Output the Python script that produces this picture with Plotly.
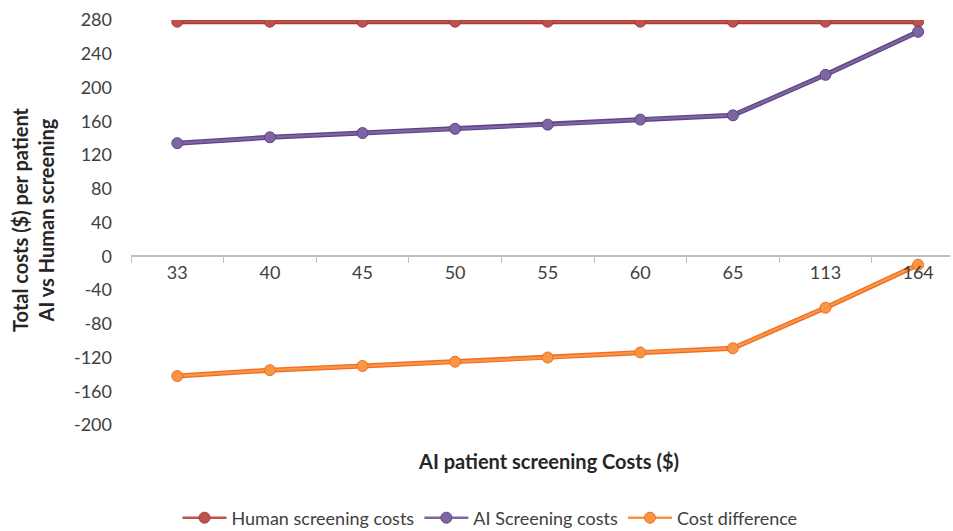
import plotly.graph_objects as go

categories = ["33", "40", "45", "50", "55", "60", "65", "113", "164"]
human_costs = [278, 278, 278, 278, 278, 278, 278, 278, 278]
ai_costs = [134, 141, 146, 151, 156, 162, 167, 215, 266]
cost_diff = [-142, -135, -130, -125, -120, -114, -109, -61, -10]
y_ticks = [280, 240, 200, 160, 120, 80, 40, 0, -40, -80, -120, -160, -200]
y_tick_labels = ["280", "240", "200", "160", "120", "80", "40", "0",
                 "-40", "-80", "-120", "-160", "-200"]

series = [
    ("Human screening costs", human_costs, "#C0504D", "#A33B38"),
    ("AI Screening costs", ai_costs, "#8064A2", "#5B4585"),
    ("Cost difference", cost_diff, "#F79646", "#F26B21"),
]

fig = go.Figure()
for name, vals, col, edge in series:
    fig.add_trace(go.Scatter(x=categories, y=vals, mode="lines", showlegend=False,
                             line=dict(color=edge, width=5), hoverinfo="skip"))
    fig.add_trace(go.Scatter(x=categories, y=vals, mode="lines+markers", name=name,
                             line=dict(color=col, width=2.5),
                             marker=dict(size=11, color=col, line=dict(color=edge, width=1))))

l, r, t, b = 131, 3, 20, 106
W, H = 953, 531
pw = W - l - r
ph = H - t - b
cat_px = 92.6
xmax = -0.5 + pw / cat_px

fig.update_layout(
    width=W, height=H,
    margin=dict(l=l, r=r, t=t, b=b, autoexpand=False),
    paper_bgcolor="white", plot_bgcolor="white",
    font=dict(family="Lato, 'Open Sans', sans-serif", size=18, color="#404040"),
    xaxis=dict(type="category", range=[-0.5, xmax], showgrid=False,
               anchor="free", position=200 / 480,
               showline=True, linecolor="#BFBFBF", linewidth=1.5,
               ticks="outside", tickson="boundaries", ticklen=6, tickcolor="#BFBFBF",
               tickfont=dict(size=18, color="#404040"), automargin=False),
    yaxis=dict(range=[-200, 280], tickmode="array", tickvals=y_ticks, ticktext=y_tick_labels,
               showgrid=False, zeroline=False,
               showline=False, ticks="", ticklabelstandoff=18, automargin=False,
               tickfont=dict(size=18, color="#404040")),
    legend=dict(orientation="h", x=(490 - l) / pw, xanchor="center", xref="paper",
                y=(H - b - 518) / ph, yanchor="middle", font=dict(size=18, color="#404040"),
                itemwidth=44, tracegroupgap=0),
    showlegend=True,
)

fig.add_annotation(text="<b>Total costs ($) per patient<br>AI vs Human screening</b>",
                   xref="paper", yref="paper", x=(33 - l) / pw, y=(H - b - 220) / ph, textangle=-90,
                   showarrow=False, font=dict(size=20, color="#262626"),
                   xanchor="center", yanchor="middle")
fig.add_annotation(text="<b>AI patient screening Costs ($)</b>",
                   xref="paper", yref="paper", x=(548 - l) / pw, y=(H - b - 461) / ph,
                   showarrow=False, font=dict(size=20, color="#262626"),
                   xanchor="center", yanchor="middle")

fig.write_html("out.html", config={"displayModeBar": False},
               post_script="document.body.style.margin='0px';")
